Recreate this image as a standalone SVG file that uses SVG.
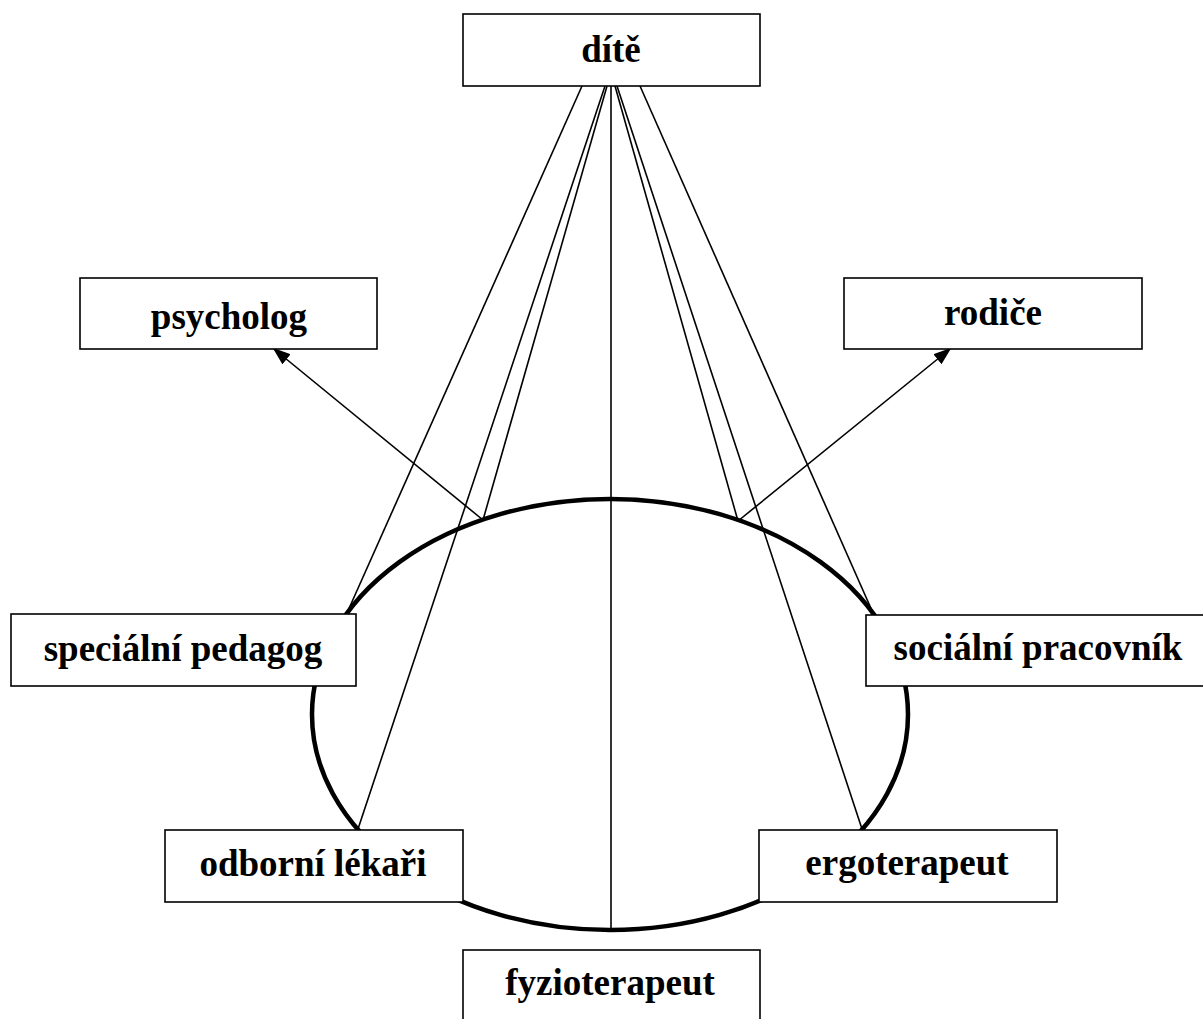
<svg xmlns="http://www.w3.org/2000/svg" width="1203" height="1019" viewBox="0 0 1203 1019">
<style>
.box{fill:#fff;stroke:#000;stroke-width:1.6}
.lbl{font-family:"Liberation Serif","Times New Roman",serif;font-weight:bold;font-size:37px;text-anchor:middle;fill:#000}
.ln{stroke:#000;stroke-width:1.6;fill:none}
</style>
<defs>
<marker id="ah" viewBox="0 0 10 10" refX="9" refY="5" markerWidth="18" markerHeight="13" preserveAspectRatio="none" markerUnits="userSpaceOnUse" orient="auto">
<path d="M0,0 L10,5 L0,10 z" fill="#000"/>
</marker>
</defs>
<rect width="1203" height="1019" fill="#fff"/>
<ellipse id="circle" cx="610" cy="714.5" rx="298" ry="215.5" fill="none" stroke="#000" stroke-width="4.5"/>
<g id="connectors">
<line class="ln" x1="582" y1="86" x2="347" y2="613"/>
<line class="ln" x1="605" y1="86" x2="358" y2="829"/>
<line class="ln" x1="607" y1="86" x2="483" y2="520"/>
<line class="ln" x1="611" y1="86" x2="611" y2="930"/>
<line class="ln" x1="615" y1="86" x2="738" y2="521"/>
<line class="ln" x1="617" y1="86" x2="862" y2="829"/>
<line class="ln" x1="640" y1="86" x2="873" y2="613"/>
<line class="ln" x1="483" y1="520" x2="274" y2="349" marker-end="url(#ah)"/>
<line class="ln" x1="738" y1="521" x2="950" y2="349" marker-end="url(#ah)"/>
</g>
<g id="dite"><rect class="box" x="463" y="14" width="297" height="72"/><text class="lbl" x="611" y="62">dítě</text></g>
<g id="psycholog"><rect class="box" x="80" y="278" width="297" height="71"/><text class="lbl" x="229" y="329">psycholog</text></g>
<g id="rodice"><rect class="box" x="844" y="278" width="298" height="71"/><text class="lbl" x="993" y="325">rodiče</text></g>
<g id="specialni-pedagog"><rect class="box" x="11" y="614" width="345" height="72"/><text class="lbl" x="183" y="661">speciální pedagog</text></g>
<g id="socialni-pracovnik"><rect class="box" x="866" y="615" width="340" height="71"/><text class="lbl" x="1038" y="660">sociální pracovník</text></g>
<g id="odborni-lekari"><rect class="box" x="165" y="830" width="298" height="72"/><text class="lbl" x="313" y="876">odborní lékaři</text></g>
<g id="ergoterapeut"><rect class="box" x="759" y="830" width="298" height="72"/><text class="lbl" x="907" y="875">ergoterapeut</text></g>
<g id="fyzioterapeut"><rect class="box" x="463" y="950" width="297" height="80"/><text class="lbl" x="610" y="995">fyzioterapeut</text></g>
</svg>
